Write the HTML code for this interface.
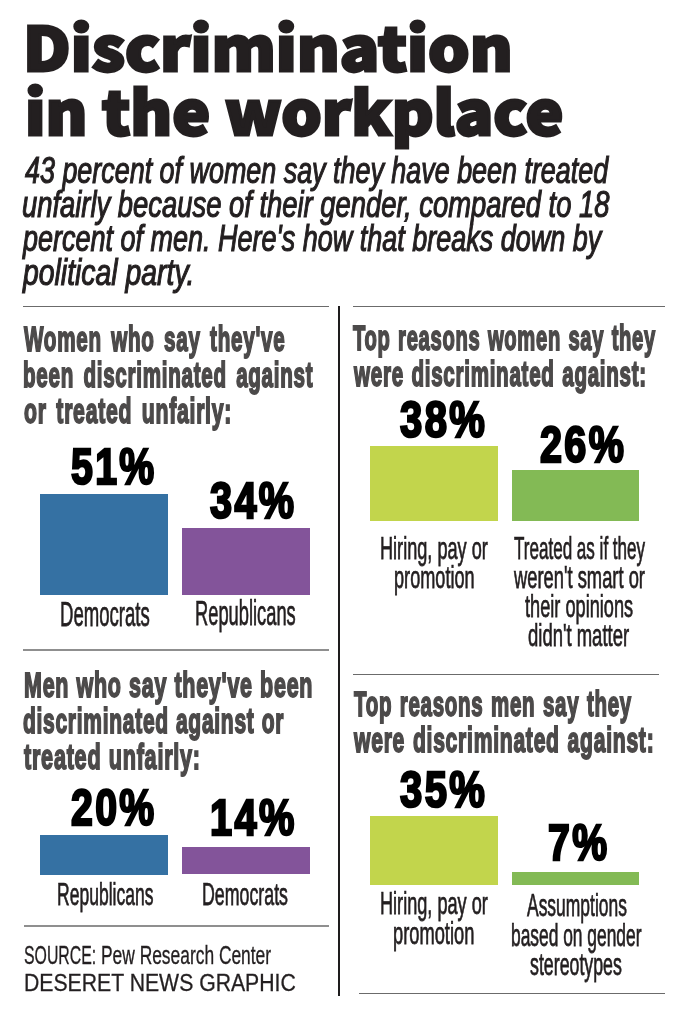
<!DOCTYPE html>
<html lang="en">
<head>
<meta charset="utf-8">
<title>Discrimination in the workplace</title>
<style>
html,body{margin:0;padding:0;background:#fff;}
body{width:688px;height:1024px;position:relative;overflow:hidden;}
.t{position:absolute;line-height:1;white-space:pre;transform-origin:0 0;}
.bar{position:absolute;}
.blue{background:#3571a3;}
.purple{background:#83549a;}
.lime{background:#c2d54c;}
.green{background:#83ba55;}
.rule{position:absolute;height:1px;background:#6b6b6b;}
.vline{position:absolute;left:338px;top:306px;width:2px;height:690px;background:#1e1c1d;}
</style>
</head>
<body>
<div class="rule" style="left:23px;top:306px;width:306px"></div>
<div class="rule" style="left:353px;top:306px;width:312px"></div>
<div class="rule" style="left:23px;top:649px;width:306px;height:2px;background:#8f8f8f"></div>
<div class="rule" style="left:353px;top:674px;width:306px"></div>
<div class="rule" style="left:24px;top:925px;width:305px;height:2px;background:#8f8f8f"></div>
<div class="rule" style="left:359px;top:993px;width:306px"></div>
<div class="vline"></div>

<div class="bar blue" style="left:40px;top:494px;width:128px;height:100.5px"></div>
<div class="bar purple" style="left:182px;top:528px;width:127.5px;height:66.5px"></div>
<div class="bar blue" style="left:40px;top:835px;width:128px;height:39.5px"></div>
<div class="bar purple" style="left:182px;top:847.1px;width:127.5px;height:26.8px"></div>
<div class="bar lime" style="left:369.8px;top:446px;width:128.2px;height:74.8px"></div>
<div class="bar green" style="left:512px;top:469.5px;width:127.1px;height:51.2px"></div>
<div class="bar lime" style="left:370.2px;top:816.2px;width:127.8px;height:69.2px"></div>
<div class="bar green" style="left:512px;top:871.7px;width:127.1px;height:13.5px"></div>

<div class="t" style="left:22.88px;top:14.80px;transform:scaleX(1.0805);font-family:'Noto Sans CJK SC', 'Liberation Sans', sans-serif;font-weight:900;font-style:normal;font-size:60.5px;color:#231f20;-webkit-text-stroke:2.8px #231f20;">Discrimination</div>
<div class="t" style="left:24.59px;top:78.80px;transform:scaleX(1.0528);font-family:'Noto Sans CJK SC', 'Liberation Sans', sans-serif;font-weight:900;font-style:normal;font-size:60.5px;color:#231f20;-webkit-text-stroke:2.8px #231f20;">in the workplace</div>
<div class="t" style="left:24.60px;top:151.80px;transform:scaleX(0.7173);font-family:'Liberation Sans', sans-serif;font-weight:400;font-style:italic;font-size:37.5px;color:#231f20;-webkit-text-stroke:1.2px #231f20;">43 percent of women say they have been treated</div>
<div class="t" style="left:21.77px;top:185.80px;transform:scaleX(0.7301);font-family:'Liberation Sans', sans-serif;font-weight:400;font-style:italic;font-size:37.5px;color:#231f20;-webkit-text-stroke:1.2px #231f20;">unfairly because of their gender, compared to 18</div>
<div class="t" style="left:22.64px;top:219.80px;transform:scaleX(0.7198);font-family:'Liberation Sans', sans-serif;font-weight:400;font-style:italic;font-size:37.5px;color:#231f20;-webkit-text-stroke:1.2px #231f20;">percent of men. Here's how that breaks down by</div>
<div class="t" style="left:22.71px;top:254.00px;transform:scaleX(0.7567);font-family:'Liberation Sans', sans-serif;font-weight:400;font-style:italic;font-size:37.5px;color:#231f20;-webkit-text-stroke:1.2px #231f20;">political party.</div>
<div class="t" style="left:24.20px;top:322.20px;transform:scaleX(0.5970);font-family:'Liberation Sans', sans-serif;font-weight:700;font-style:normal;font-size:34.6px;color:#4c4a4a;letter-spacing:1.2px;word-spacing:5px;-webkit-text-stroke:1.8px #4c4a4a;">Women who say they've</div>
<div class="t" style="left:23.20px;top:358.30px;transform:scaleX(0.5961);font-family:'Liberation Sans', sans-serif;font-weight:700;font-style:normal;font-size:34.6px;color:#4c4a4a;letter-spacing:1.2px;word-spacing:5px;-webkit-text-stroke:1.8px #4c4a4a;">been discriminated against</div>
<div class="t" style="left:23.60px;top:394.00px;transform:scaleX(0.6128);font-family:'Liberation Sans', sans-serif;font-weight:700;font-style:normal;font-size:34.6px;color:#4c4a4a;letter-spacing:1.2px;word-spacing:5px;-webkit-text-stroke:1.8px #4c4a4a;">or treated unfairly:</div>
<div class="t" style="left:353.30px;top:320.50px;transform:scaleX(0.5838);font-family:'Liberation Sans', sans-serif;font-weight:700;font-style:normal;font-size:34.6px;color:#4c4a4a;letter-spacing:1.2px;word-spacing:2px;-webkit-text-stroke:1.8px #4c4a4a;">Top reasons women say they</div>
<div class="t" style="left:354.40px;top:357.00px;transform:scaleX(0.5955);font-family:'Liberation Sans', sans-serif;font-weight:700;font-style:normal;font-size:34.6px;color:#4c4a4a;letter-spacing:1.2px;word-spacing:2px;-webkit-text-stroke:1.8px #4c4a4a;">were discriminated against:</div>
<div class="t" style="left:23.68px;top:668.00px;transform:scaleX(0.6210);font-family:'Liberation Sans', sans-serif;font-weight:700;font-style:normal;font-size:34.6px;color:#4c4a4a;letter-spacing:1.2px;word-spacing:1px;-webkit-text-stroke:1.8px #4c4a4a;">Men who say they've been</div>
<div class="t" style="left:23.39px;top:704.00px;transform:scaleX(0.6065);font-family:'Liberation Sans', sans-serif;font-weight:700;font-style:normal;font-size:34.6px;color:#4c4a4a;letter-spacing:1.2px;word-spacing:1px;-webkit-text-stroke:1.8px #4c4a4a;">discriminated against or</div>
<div class="t" style="left:24.00px;top:740.00px;transform:scaleX(0.6254);font-family:'Liberation Sans', sans-serif;font-weight:700;font-style:normal;font-size:34.6px;color:#4c4a4a;letter-spacing:1.2px;word-spacing:1px;-webkit-text-stroke:1.8px #4c4a4a;">treated unfairly:</div>
<div class="t" style="left:353.80px;top:687.30px;transform:scaleX(0.5932);font-family:'Liberation Sans', sans-serif;font-weight:700;font-style:normal;font-size:34.6px;color:#4c4a4a;letter-spacing:1.2px;word-spacing:2px;-webkit-text-stroke:1.8px #4c4a4a;">Top reasons men say they</div>
<div class="t" style="left:354.41px;top:723.30px;transform:scaleX(0.6108);font-family:'Liberation Sans', sans-serif;font-weight:700;font-style:normal;font-size:34.6px;color:#4c4a4a;letter-spacing:1.2px;word-spacing:2px;-webkit-text-stroke:1.8px #4c4a4a;">were discriminated against:</div>
<div class="t" style="left:71.40px;top:441.70px;transform:scaleX(0.7785);font-family:'Liberation Sans', sans-serif;font-weight:700;font-style:normal;font-size:50.4px;color:#000000;letter-spacing:3px;-webkit-text-stroke:2.5px #000000;">51%</div>
<div class="t" style="left:210.00px;top:475.80px;transform:scaleX(0.7869);font-family:'Liberation Sans', sans-serif;font-weight:700;font-style:normal;font-size:50.4px;color:#000000;letter-spacing:3px;-webkit-text-stroke:2.5px #000000;">34%</div>
<div class="t" style="left:71.40px;top:782.80px;transform:scaleX(0.7785);font-family:'Liberation Sans', sans-serif;font-weight:700;font-style:normal;font-size:50.4px;color:#000000;letter-spacing:3px;-webkit-text-stroke:2.5px #000000;">20%</div>
<div class="t" style="left:209.82px;top:793.20px;transform:scaleX(0.7895);font-family:'Liberation Sans', sans-serif;font-weight:700;font-style:normal;font-size:50.4px;color:#000000;letter-spacing:3px;-webkit-text-stroke:2.5px #000000;">14%</div>
<div class="t" style="left:399.90px;top:395.40px;transform:scaleX(0.7944);font-family:'Liberation Sans', sans-serif;font-weight:700;font-style:normal;font-size:50.4px;color:#000000;letter-spacing:3px;-webkit-text-stroke:2.5px #000000;">38%</div>
<div class="t" style="left:540.30px;top:420.00px;transform:scaleX(0.7850);font-family:'Liberation Sans', sans-serif;font-weight:700;font-style:normal;font-size:50.4px;color:#000000;letter-spacing:3px;-webkit-text-stroke:2.5px #000000;">26%</div>
<div class="t" style="left:399.90px;top:765.00px;transform:scaleX(0.7944);font-family:'Liberation Sans', sans-serif;font-weight:700;font-style:normal;font-size:50.4px;color:#000000;letter-spacing:3px;-webkit-text-stroke:2.5px #000000;">35%</div>
<div class="t" style="left:547.62px;top:817.80px;transform:scaleX(0.7787);font-family:'Liberation Sans', sans-serif;font-weight:700;font-style:normal;font-size:50.4px;color:#000000;letter-spacing:3px;-webkit-text-stroke:2.5px #000000;">7%</div>
<div class="t" style="left:60.13px;top:596.50px;transform:scaleX(0.5339);font-family:'Liberation Sans', sans-serif;font-weight:400;font-style:normal;font-size:34.8px;color:#231f20;-webkit-text-stroke:0.75px #231f20;">Democrats</div>
<div class="t" style="left:195.35px;top:596.40px;transform:scaleX(0.5259);font-family:'Liberation Sans', sans-serif;font-weight:400;font-style:normal;font-size:34.8px;color:#231f20;-webkit-text-stroke:0.75px #231f20;">Republicans</div>
<div class="t" style="left:56.58px;top:878.60px;transform:scaleX(0.5598);font-family:'Liberation Sans', sans-serif;font-weight:400;font-style:normal;font-size:31.3px;color:#231f20;-webkit-text-stroke:0.75px #231f20;">Republicans</div>
<div class="t" style="left:202.46px;top:878.50px;transform:scaleX(0.5685);font-family:'Liberation Sans', sans-serif;font-weight:400;font-style:normal;font-size:31.3px;color:#231f20;-webkit-text-stroke:0.75px #231f20;">Democrats</div>
<div class="t" style="left:380.14px;top:533.40px;transform:scaleX(0.5814);font-family:'Liberation Sans', sans-serif;font-weight:400;font-style:normal;font-size:31.2px;color:#231f20;-webkit-text-stroke:0.75px #231f20;">Hiring, pay or</div>
<div class="t" style="left:393.94px;top:562.20px;transform:scaleX(0.5815);font-family:'Liberation Sans', sans-serif;font-weight:400;font-style:normal;font-size:31.2px;color:#231f20;-webkit-text-stroke:0.75px #231f20;">promotion</div>
<div class="t" style="left:513.50px;top:533.40px;transform:scaleX(0.5467);font-family:'Liberation Sans', sans-serif;font-weight:400;font-style:normal;font-size:31.2px;color:#231f20;-webkit-text-stroke:0.75px #231f20;">Treated as if they</div>
<div class="t" style="left:513.50px;top:562.30px;transform:scaleX(0.5883);font-family:'Liberation Sans', sans-serif;font-weight:400;font-style:normal;font-size:31.2px;color:#231f20;-webkit-text-stroke:0.75px #231f20;">weren't smart or</div>
<div class="t" style="left:525.10px;top:591.30px;transform:scaleX(0.5832);font-family:'Liberation Sans', sans-serif;font-weight:400;font-style:normal;font-size:31.2px;color:#231f20;-webkit-text-stroke:0.75px #231f20;">their opinions</div>
<div class="t" style="left:527.81px;top:620.40px;transform:scaleX(0.5924);font-family:'Liberation Sans', sans-serif;font-weight:400;font-style:normal;font-size:31.2px;color:#231f20;-webkit-text-stroke:0.75px #231f20;">didn't matter</div>
<div class="t" style="left:380.14px;top:888.40px;transform:scaleX(0.5814);font-family:'Liberation Sans', sans-serif;font-weight:400;font-style:normal;font-size:31.2px;color:#231f20;-webkit-text-stroke:0.75px #231f20;">Hiring, pay or</div>
<div class="t" style="left:393.23px;top:917.90px;transform:scaleX(0.5867);font-family:'Liberation Sans', sans-serif;font-weight:400;font-style:normal;font-size:31.2px;color:#231f20;-webkit-text-stroke:0.75px #231f20;">promotion</div>
<div class="t" style="left:526.70px;top:890.40px;transform:scaleX(0.5596);font-family:'Liberation Sans', sans-serif;font-weight:400;font-style:normal;font-size:31.2px;color:#231f20;-webkit-text-stroke:0.75px #231f20;">Assumptions</div>
<div class="t" style="left:510.99px;top:919.90px;transform:scaleX(0.5573);font-family:'Liberation Sans', sans-serif;font-weight:400;font-style:normal;font-size:31.2px;color:#231f20;-webkit-text-stroke:0.75px #231f20;">based on gender</div>
<div class="t" style="left:530.33px;top:948.50px;transform:scaleX(0.5700);font-family:'Liberation Sans', sans-serif;font-weight:400;font-style:normal;font-size:31.2px;color:#231f20;-webkit-text-stroke:0.75px #231f20;">stereotypes</div>
<div class="t" style="left:23.71px;top:941.50px;transform:scaleX(0.5933);font-family:'Liberation Sans', sans-serif;font-weight:400;font-style:normal;font-size:26.7px;color:#231f20;-webkit-text-stroke:0.35px #231f20;">SOURCE:</div>
<div class="t" style="left:101.40px;top:941.50px;transform:scaleX(0.6514);font-family:'Liberation Sans', sans-serif;font-weight:400;font-style:normal;font-size:26.7px;color:#231f20;-webkit-text-stroke:0.35px #231f20;">Pew Research Center</div>
<div class="t" style="left:23.70px;top:971.90px;transform:scaleX(0.9023);font-family:'Liberation Sans', sans-serif;font-weight:400;font-style:normal;font-size:23.5px;color:#231f20;-webkit-text-stroke:0.3px #231f20;">DESERET NEWS GRAPHIC</div>
</body>
</html>
